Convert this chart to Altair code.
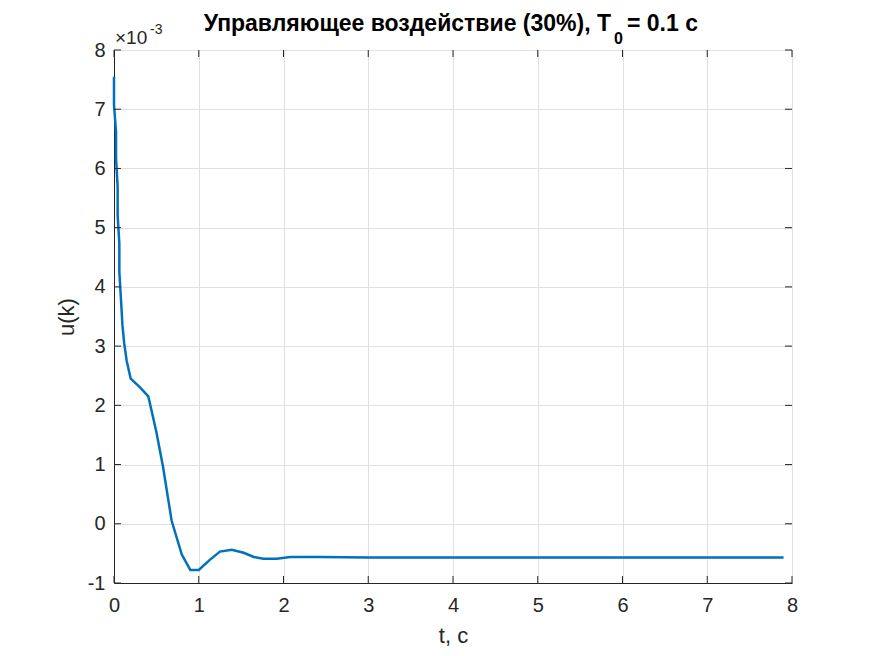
import altair as alt
import pandas as pd

# time (s) and control signal u(k) in units of 1e-3
t_vals = [0.0, 0.0, 0.024, 0.024, 0.043, 0.043, 0.063, 0.063, 0.083, 0.10, 0.12, 0.15, 0.197,
          0.31, 0.405, 0.50, 0.58, 0.68, 0.80, 0.90, 1.0, 1.13, 1.25, 1.39, 1.53, 1.65,
          1.76, 1.92, 2.08, 2.43, 3.0, 4.0, 5.0, 6.0, 7.0, 7.9]
u_vals = [7.55, 7.07, 6.62, 6.17, 5.69, 5.21, 4.73, 4.25, 3.77, 3.35, 3.05, 2.75, 2.45,
          2.30, 2.15, 1.55, 0.95, 0.05, -0.52, -0.78, -0.78, -0.61, -0.47, -0.44, -0.49, -0.56,
          -0.59, -0.59, -0.56, -0.56, -0.57, -0.57, -0.57, -0.57, -0.57, -0.57]

x_ticks = [0, 1, 2, 3, 4, 5, 6, 7, 8]
y_ticks = [-1, 0, 1, 2, 3, 4, 5, 6, 7, 8]

W, H = 678, 533
FONT = "Liberation Sans"
TXT = "#262626"

df = pd.DataFrame({"t": t_vals, "u": u_vals})
xt = pd.DataFrame({"v": x_ticks})
yt = pd.DataFrame({"v": y_ticks})

xscale = alt.Scale(domain=[0, 8], nice=False, zero=False)
yscale = alt.Scale(domain=[-1, 8], nice=False, zero=False)

common = dict(grid=True, tickSize=0, labelFontSize=20, labelColor=TXT, labelFont=FONT,
              titleFont=FONT, titleFontSize=22, titleFontWeight="normal", titleColor=TXT,
              titleBaseline="alphabetic", domainColor=TXT, gridColor="#E0E0E0",
              labelFlush=False, labelExpr="toString(datum.value)")

line = alt.Chart(df).mark_line(color="#0072BD", strokeWidth=2.5).encode(
    x=alt.X("t:Q", scale=xscale,
            axis=alt.Axis(values=x_ticks, title="t, с", labelPadding=12, titleY=59, **common)),
    y=alt.Y("u:Q", scale=yscale,
            axis=alt.Axis(values=y_ticks, title="u(k)", labelPadding=9, titleX=-41, **common)),
)

tick_len = 7
xb = alt.Chart(xt).mark_rule(color=TXT, strokeWidth=1).encode(
    x=alt.X("v:Q", scale=xscale), y=alt.value(H), y2=alt.value(H - tick_len))
xtop = alt.Chart(xt).mark_rule(color=TXT, strokeWidth=1).encode(
    x=alt.X("v:Q", scale=xscale), y=alt.value(0), y2=alt.value(tick_len))
yl = alt.Chart(yt).mark_rule(color=TXT, strokeWidth=1).encode(
    y=alt.Y("v:Q", scale=yscale), x=alt.value(0), x2=alt.value(tick_len))
yr = alt.Chart(yt).mark_rule(color=TXT, strokeWidth=1).encode(
    y=alt.Y("v:Q", scale=yscale), x=alt.value(W), x2=alt.value(W - tick_len))

def txt(s, x, y, size, align="left", weight="normal", color="black"):
    return alt.Chart(pd.DataFrame({"s": [s]})).mark_text(
        align=align, baseline="alphabetic", fontSize=size, font=FONT,
        fontWeight=weight, color=color).encode(
        text="s:N", x=alt.value(x), y=alt.value(y))

title_main = txt("Управляющее воздействие (30%), T", 497, -19, 23, "right", "bold")
title_sub = txt("0", 500, -6, 16, "left", "bold")
title_end = txt("= 0.1 с", 513, -19, 23, "left", "bold")
exp_base = txt("×10", 1, -6, 19, "left", "normal", TXT)
exp_sup = txt("-3", 36, -16, 14, "left", "normal", TXT)

chart = alt.layer(line, xb, xtop, yl, yr, title_main, title_sub, title_end, exp_base, exp_sup).properties(
    width=W, height=H,
    autosize=alt.AutoSizeParams(type="none"),
    padding={"left": 106, "top": 42, "right": 75, "bottom": 65},
).configure_view(stroke=TXT, strokeWidth=1).configure(background="white")

chart.save("out.html", embed_options={"renderer": "svg", "actions": False})
